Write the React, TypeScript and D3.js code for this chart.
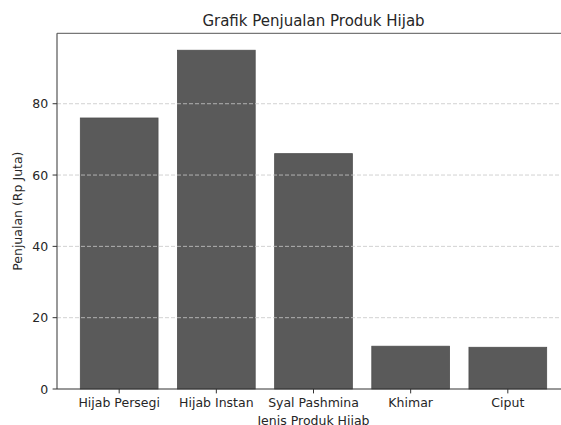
import React from "react";
import * as d3 from "d3";

const categories = ["Hijab Persegi", "Hijab Instan", "Syal Pashmina", "Khimar", "Ciput"];
const sales = [76, 95, 66, 12, 11.7];
const yTicks = [0, 20, 40, 60, 80];
const title = "Grafik Penjualan Produk Hijab";
const xLabel = "Jenis Produk Hijab";
const yLabel = "Penjualan (Rp Juta)";

const W = 561;
const H = 425;
const left = 57;
const top = 33.3;
const bottom = 389;
const right = 570;
const font = "DejaVu Sans, sans-serif";
const textColor = "#262626";

export default function App() {
  const n = categories.length;
  const yMax = d3.max(sales)! * 1.05;
  const x = d3.scaleLinear().domain([-0.64, n - 1 + 0.64]).range([left, right]);
  const y = d3.scaleLinear().domain([0, yMax]).range([bottom, top]);
  const barW = x(0.8) - x(0);

  return (
    <svg
      width={W}
      height={H}
      style={{ position: "absolute", left: 0, top: 0, background: "#fff" }}
      fontFamily={font}
    >
      <rect x={0} y={0} width={W} height={H} fill="#fff" />
      {sales.map((v, i) => (
        <rect
          key={categories[i]}
          x={x(i) - barW / 2}
          y={y(v)}
          width={barW}
          height={y(0) - y(v)}
          fill="#5a5a5a"
          stroke="#4e4e4e"
          strokeWidth={0.8}
        />
      ))}
      {yTicks.filter((t) => t > 0).map((t) => (
        <line
          key={"g" + t}
          x1={left}
          x2={right}
          y1={y(t)}
          y2={y(t)}
          stroke="#c8c8c8"
          strokeWidth={1}
          strokeDasharray="4,2"
          opacity={0.8}
        />
      ))}
      {/* spines */}
      <line x1={left} x2={right} y1={top} y2={top} stroke="#777" strokeWidth={1.3} />
      <line x1={left} x2={left} y1={top} y2={bottom} stroke="#555" strokeWidth={1.2} />
      <line x1={right} x2={right} y1={top} y2={bottom} stroke="#555" strokeWidth={1.2} />
      <line x1={left} x2={right} y1={bottom} y2={bottom} stroke="#333" strokeWidth={1.2} />
      {/* y ticks */}
      {yTicks.map((t) => (
        <g key={"yt" + t}>
          <line x1={left - 4.4} x2={left} y1={y(t)} y2={y(t)} stroke="#333" strokeWidth={1} />
          <text
            x={left - 8.8}
            y={y(t) + 4.5}
            textAnchor="end"
            fontSize={12.5}
            fill={textColor}
          >
            {t}
          </text>
        </g>
      ))}
      {/* x ticks */}
      {categories.map((c, i) => (
        <g key={"xt" + c}>
          <line x1={x(i)} x2={x(i)} y1={bottom} y2={bottom + 4.4} stroke="#333" strokeWidth={1} />
          <text x={x(i)} y={406.8} textAnchor="middle" fontSize={12.5} fill={textColor}>
            {c}
          </text>
        </g>
      ))}
      <text x={(left + right) / 2} y={424.8} textAnchor="middle" fontSize={12.5} fill={textColor}>
        {xLabel}
      </text>
      <text
        transform={`translate(22, ${(top + bottom) / 2}) rotate(-90)`}
        textAnchor="middle"
        fontSize={12.5}
        fill={textColor}
      >
        {yLabel}
      </text>
      <text x={(left + right) / 2} y={25.6} textAnchor="middle" fontSize={15} fill={textColor}>
        {title}
      </text>
    </svg>
  );
}
